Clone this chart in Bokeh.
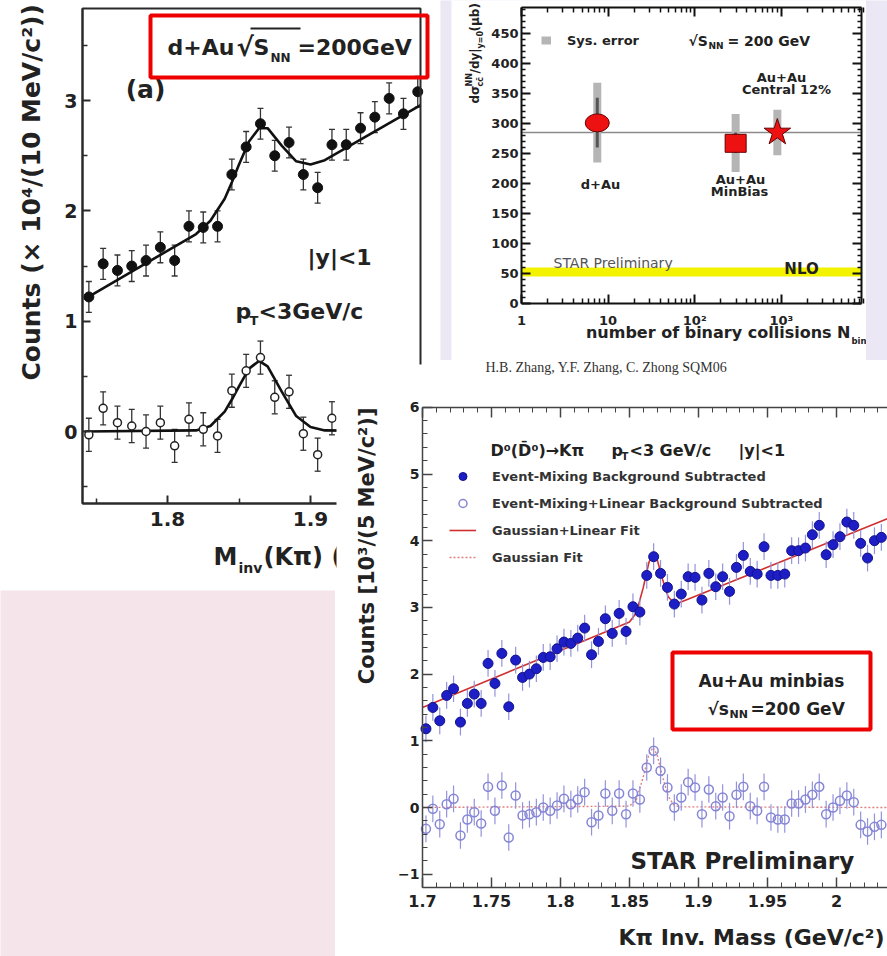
import math
from bokeh.plotting import figure
from bokeh.layouts import column
from bokeh.models import (ColumnDataSource, Label, BoxAnnotation, Whisker, TeeHead,
                          FixedTicker, LinearAxis, LogAxis, NumeralTickFormatter,
                          BasicTickFormatter, Range1d, Legend, LegendItem)
from bokeh.embed import file_html
from bokeh.resources import INLINE

# ============================ DATA ============================
# (a) d+Au, D0 -> K pi invariant mass, 10 MeV bins (counts x 10^4)
dau_mass = [1.745, 1.755, 1.765, 1.775, 1.785, 1.795, 1.805, 1.815, 1.825, 1.835,
            1.845, 1.855, 1.865, 1.875, 1.885, 1.895, 1.905, 1.915, 1.925, 1.935,
            1.945, 1.955, 1.965, 1.975]
dau_counts = [1.22, 1.52, 1.46, 1.50, 1.55, 1.67, 1.55, 1.86, 1.85, 1.86,
              2.33, 2.58, 2.79, 2.50, 2.62, 2.33, 2.21, 2.60, 2.60, 2.75,
              2.85, 3.02, 2.88, 3.08]
dau_counts_err = 0.14
dau_sub_mass = [1.745, 1.755, 1.765, 1.775, 1.785, 1.795, 1.805, 1.815, 1.825, 1.835,
                1.845, 1.855, 1.865, 1.875, 1.885, 1.895, 1.905, 1.915]
dau_sub_counts = [-0.03, 0.21, 0.08, 0.05, 0.00, 0.08, -0.13, 0.11, 0.02, -0.04,
                  0.37, 0.55, 0.67, 0.31, 0.36, -0.02, -0.21, 0.12]
dau_sub_err = 0.15
dau_fit_mass = [1.742, 1.82, 1.83, 1.84, 1.845, 1.85, 1.857, 1.864, 1.87, 1.88,
                1.89, 1.90, 1.91, 1.977]
dau_fit_total = [1.20, 1.79, 1.91, 2.11, 2.26, 2.42, 2.63, 2.75, 2.75, 2.59,
                 2.45, 2.42, 2.46, 2.96]
dau_fit_gauss = [0.0, 0.01, 0.05, 0.18, 0.29, 0.41, 0.57, 0.64, 0.59, 0.36,
                 0.14, 0.04, 0.01, 0.0]
dau_xticks = [1.8, 1.9]
dau_yticks = [0, 1, 2, 3]

# top right: dsigma_cc/dy vs number of binary collisions
sys_names = ["d+Au", "Au+Au MinBias", "Au+Au Central 12%"]
nbin = [7.5, 297.0, 900.0]
xsec = [301.0, 267.0, 285.0]
xsec_stat_lo = [260.0, 251.0, 277.0]
xsec_stat_hi = [343.0, 285.0, 293.0]
xsec_sys_lo = [235.0, 219.0, 247.0]
xsec_sys_hi = [368.0, 316.0, 323.0]
xsec_mean = 285.0
nlo_band = [45.0, 60.0]
tr_xticks = [1, 10, 100, 1000]
tr_xtick_labels = ["1", "10", "10²", "10³"]
tr_yticks = [0, 50, 100, 150, 200, 250, 300, 350, 400, 450]

# bottom right: Au+Au minbias, 5 MeV bins (counts x 10^3)
auau_mass = [1.7025, 1.7075, 1.7125, 1.7175, 1.7225, 1.7275, 1.7325, 1.7375, 1.7425, 1.7475,
             1.7525, 1.7575, 1.7625, 1.7675, 1.7725, 1.7775, 1.7825, 1.7875, 1.7925, 1.7975,
             1.8025, 1.8075, 1.8125, 1.8175, 1.8225, 1.8275, 1.8325, 1.8375, 1.8425, 1.8475,
             1.8525, 1.8575, 1.8625, 1.8675, 1.8725, 1.8775, 1.8825, 1.8875, 1.8925, 1.8975,
             1.9025, 1.9075, 1.9125, 1.9175, 1.9225, 1.9275, 1.9325, 1.9375, 1.9425, 1.9475,
             1.9525, 1.9575, 1.9625, 1.9675, 1.9725, 1.9775, 1.9825, 1.9875, 1.9925, 1.9975,
             2.0025, 2.0075, 2.0125, 2.0175, 2.0225, 2.0275, 2.0325]
auau_counts = [1.18, 1.50, 1.30, 1.68, 1.78, 1.28, 1.56, 1.70, 1.56, 2.16,
               1.86, 2.31, 1.51, 2.21, 1.95, 2.00, 2.08, 2.25, 2.26, 2.38,
               2.48, 2.46, 2.54, 2.69, 2.29, 2.49, 2.83, 2.61, 2.91, 2.64,
               3.01, 2.93, 3.48, 3.76, 3.51, 3.30, 3.05, 3.20, 3.46, 3.45,
               3.11, 3.51, 3.31, 3.46, 3.24, 3.60, 3.78, 3.54, 3.50, 3.91,
               3.48, 3.48, 3.50, 3.85, 3.85, 3.89, 4.09, 4.23, 3.79, 3.94,
               4.06, 4.28, 4.23, 3.96, 3.74, 4.00, 4.05]
auau_sub_counts = [-0.32, -0.02, -0.25, 0.05, 0.13, -0.42, -0.18, -0.07, -0.24, 0.31,
                   -0.05, 0.33, -0.45, 0.18, -0.12, -0.10, -0.07, 0.00, -0.05, 0.03,
                   0.13, 0.05, 0.12, 0.23, -0.22, -0.12, 0.21, -0.05, 0.21, -0.10,
                   0.21, 0.12, 0.60, 0.85, 0.55, 0.30, 0.00, 0.15, 0.38, 0.30,
                   -0.10, 0.27, 0.02, 0.15, -0.13, 0.19, 0.31, 0.02, -0.05, 0.31,
                   -0.15, -0.18, -0.18, 0.06, 0.06, 0.12, 0.19, 0.31, -0.10, 0.00,
                   0.10, 0.18, 0.08, -0.26, -0.36, -0.29, -0.26]
auau_err = 0.20
auau_fit_mass = [1.700, 1.850, 1.855, 1.860, 1.864, 1.867, 1.870, 1.874, 1.878, 1.882,
                 1.886, 2.037]
auau_fit_total = [1.50, 2.78, 2.92, 3.30, 3.67, 3.80, 3.72, 3.42, 3.16, 3.07,
                  3.07, 4.33]
auau_fit_gauss = [0.0, 0.02, 0.12, 0.46, 0.79, 0.90, 0.79, 0.46, 0.17, 0.04,
                  0.01, 0.0]
br_xticks = [1.70, 1.75, 1.80, 1.85, 1.90, 1.95, 2.00]
br_yticks = [-1, 0, 1, 2, 3, 4, 5, 6]

# ============================ STYLE / HELPERS ============================
FONT = "DejaVu Sans"
INK = "#222222"
LAV = "#ece7f5"
PINK = "#f6e4eb"
RED = "#ee0000"


def conv_factory(L, R, T, B, xr, yr, xlog=False):
    """page-pixel -> data converters for a panel whose axes box is [L,R]x[T,B]."""
    def cx(px):
        f = (px - L) / (R - L)
        if xlog:
            a, b = math.log10(xr[0]), math.log10(xr[1])
            return 10 ** (a + f * (b - a))
        return xr[0] + f * (xr[1] - xr[0])

    def cy(py):
        f = (B - py) / (B - T)
        return yr[0] + f * (yr[1] - yr[0])
    return cx, cy


def text(p, conv, px, py, s, size, color=INK, align="left", baseline="middle",
         angle=0.0, font=FONT, style="bold"):
    cx, cy = conv
    p.add_layout(Label(x=cx(px), y=cy(py), text=s, text_font=font,
                       text_font_size=f"{size}px", text_font_style=style,
                       text_color=color, text_align=align, text_baseline=baseline,
                       angle=angle))


def box(p, conv, l, r, t, b, color, width, fill=None):
    cx, cy = conv
    p.add_layout(BoxAnnotation(left=cx(l), right=cx(r), top=cy(t), bottom=cy(b),
                               fill_color=fill, fill_alpha=1.0 if fill else 0.0,
                               line_color=color, line_alpha=1.0 if color else 0.0,
                               line_width=width, level="overlay"))


def make_panel(fx, fy, w, h, L, R, T, B, xr, yr, xlog=False, bg="white"):
    """Figure whose plotting area covers the whole canvas; the drawn axes box
    [L,R]x[T,B] (page pixels) carries the ranges xr, yr."""
    cx, cy = conv_factory(L, R, T, B, xr, yr, xlog)
    p = figure(width=w, height=h,
               x_range=Range1d(cx(fx), cx(fx + w)), y_range=Range1d(cy(fy + h), cy(fy)),
               x_axis_type="log" if xlog else "linear",
               x_axis_location=None, y_axis_location=None,
               output_backend="svg", toolbar_location=None, min_border=0,
               background_fill_color=bg, border_fill_color=bg, outline_line_color=None)
    p.xgrid.visible = False
    p.ygrid.visible = False
    return p, (cx, cy)


def add_axis(p, side, fixed, bounds, ticks, minor, size, standoff, tick_in, minor_in,
             color, width, show_labels=True, log=False):
    Ax = LogAxis if log else LinearAxis
    ax = Ax(fixed_location=fixed, bounds=bounds,
            ticker=FixedTicker(ticks=ticks, minor_ticks=minor))
    if log:
        ax.formatter = BasicTickFormatter()
    ax.major_tick_in = tick_in
    ax.major_tick_out = 0
    ax.minor_tick_in = minor_in
    ax.minor_tick_out = 0
    ax.axis_line_color = color
    ax.axis_line_width = width
    ax.major_tick_line_color = color
    ax.major_tick_line_width = width
    ax.minor_tick_line_color = color
    ax.minor_tick_line_width = max(1.0, width - 0.5)
    ax.major_label_text_font = FONT
    ax.major_label_text_font_style = "bold"
    ax.major_label_text_font_size = f"{size}px"
    ax.major_label_standoff = standoff
    ax.major_label_text_color = INK if show_labels else None
    p.add_layout(ax, side)
    return ax


def empty_fig(w, h, color):
    p = figure(width=w, height=h, output_backend="svg", toolbar_location=None,
               x_axis_location=None, y_axis_location=None, min_border=0,
               background_fill_color=color, border_fill_color=color,
               outline_line_color=None)
    p.xgrid.visible = False
    p.ygrid.visible = False
    return p


# ============================ PANEL (a) ============================
A_FX, A_FY, A_W, A_H = 0, 0, 440, 590
A_L, A_R, A_T, A_B = 82, 420, 8, 503
a_xr = (1.8 + (A_L - 167) / 1430.0, 1.8 + (A_R - 167) / 1430.0)
a_yr = ((431 - A_B) / 110.3, (431 - A_T) / 110.3)
pa, ca = make_panel(A_FX, A_FY, A_W, A_H, A_L, A_R, A_T, A_B, a_xr, a_yr)
AC = "#2a2a2a"
box(pa, ca, A_L, A_R, A_T, A_B, AC, 2)
add_axis(pa, "below", a_yr[0], a_xr, dau_xticks, [1.75, 1.85, 1.95], 20, 8, 8, 5, AC, 2)
add_axis(pa, "left", a_xr[0], a_yr, dau_yticks, [-0.5, 0.5, 1.5, 2.5, 3.5], 19, 5, 8, 5, AC, 2)

pa.line(dau_fit_mass, dau_fit_total, line_color="#111111", line_width=2.6)
pa.line(dau_fit_mass, dau_fit_gauss, line_color="#111111", line_width=2.6)

src_a = ColumnDataSource(dict(x=dau_mass, y=dau_counts,
                              lo=[v - dau_counts_err for v in dau_counts],
                              hi=[v + dau_counts_err for v in dau_counts]))
src_as = ColumnDataSource(dict(x=dau_sub_mass, y=dau_sub_counts,
                               lo=[v - dau_sub_err for v in dau_sub_counts],
                               hi=[v + dau_sub_err for v in dau_sub_counts]))
for s in (src_a, src_as):
    pa.add_layout(Whisker(source=s, base="x", upper="hi", lower="lo", dimension="height",
                          line_color="#333333", line_width=1.3,
                          upper_head=TeeHead(size=6, line_color="#333333", line_width=1.3),
                          lower_head=TeeHead(size=6, line_color="#333333", line_width=1.3)))
pa.scatter("x", "y", source=src_a, marker="circle", size=10, fill_color="#111111",
           line_color="#111111")
pa.scatter("x", "y", source=src_as, marker="circle", size=8, fill_color="white",
           line_color="#222222", line_width=1.5)

box(pa, ca, 150, 427, 15, 77, RED, 4)
text(pa, ca, 167, 47, "d+Au", 22)
text(pa, ca, 236, 46, "√", 26)
box(pa, ca, 250, 300, 27, 29, None, 0, fill=INK)
text(pa, ca, 253, 47, "S", 22)
text(pa, ca, 270, 57, "NN", 12)
text(pa, ca, 297, 47, "=200GeV", 22)
text(pa, ca, 145, 89, "(a)", 25, align="center")
text(pa, ca, 307, 257, "|y|<1", 22)
text(pa, ca, 235, 311, "p", 22)
text(pa, ca, 249, 320, "T", 13)
text(pa, ca, 258, 311, "<3GeV/c", 22)
text(pa, ca, 31, 380, "Counts (× 10⁴/(10 MeV/c²))", 25, angle=math.pi / 2)
text(pa, ca, 213, 556, "M", 24)
text(pa, ca, 238, 567, "inv", 14)
text(pa, ca, 263, 556, "(Kπ) (GeV/c²)", 24)

# ============================ PINK / LAVENDER BACKGROUNDS ============================
p_pink = empty_fig(335, 366, PINK)
p_lav = empty_fig(447, 360, LAV)

# ============================ TOP RIGHT ============================
TR_FX, TR_FY, TR_W, TR_H = 451, 0, 415, 383
TR_L, TR_R, TR_T, TR_B = 521, 861, 7, 303
tr_xr = (1.0, 10 ** ((TR_R - TR_L) / 86.6))
tr_yr = (0.0, (TR_B - TR_T) / 0.6)
pt, ct = make_panel(TR_FX, TR_FY, TR_W, TR_H, TR_L, TR_R, TR_T, TR_B, tr_xr, tr_yr, xlog=True)
TC = "#111111"
log_minor = [m * d for d in (1, 10, 100, 1000) for m in range(2, 10)]
y_minor = [v for v in range(0, 500, 10) if v % 50 != 0]

pt.add_layout(BoxAnnotation(left=tr_xr[0], right=tr_xr[1], bottom=nlo_band[0], top=nlo_band[1],
                            fill_color="#f3f300", fill_alpha=1.0, line_alpha=0, level="underlay"))
pt.segment(x0=[tr_xr[0]], y0=[xsec_mean], x1=[tr_xr[1]], y1=[xsec_mean],
           line_color="#8a8a8a", line_width=1.5)
r_sys = pt.segment(x0=nbin, y0=xsec_sys_lo, x1=nbin, y1=xsec_sys_hi, line_width=8,
                   line_color="#b5b5b5", line_cap="butt")
pt.segment(x0=nbin, y0=xsec_stat_lo, x1=nbin, y1=xsec_stat_hi, line_width=3,
           line_color="#555555", line_cap="butt")
pt.ellipse(x=nbin[:1], y=xsec[:1], width=24, height=18, width_units="screen",
           height_units="screen", fill_color="#ee1111", line_color="#660000", line_width=1)
pt.rect(x=nbin[1:2], y=xsec[1:2], width=21, height=18, width_units="screen",
        height_units="screen", fill_color="#ee1111", line_color="#660000", line_width=1)
pt.scatter(x=nbin[2:3], y=xsec[2:3], marker="star", size=28, fill_color="#ee1111",
           line_color="#660000", line_width=1)

ax_b = add_axis(pt, "below", tr_yr[0], tr_xr, tr_xticks, log_minor, 13, 9, 9, 5, TC, 2, log=True)
ax_b.major_label_overrides = dict(zip(tr_xticks, tr_xtick_labels))
add_axis(pt, "left", tr_xr[0], tr_yr, tr_yticks, y_minor, 13, 3, 9, 4, TC, 2)
add_axis(pt, "above", tr_yr[1], tr_xr, tr_xticks, log_minor, 13, 0, 9, 5, TC, 2,
         show_labels=False, log=True)
add_axis(pt, "right", tr_xr[1], tr_yr, tr_yticks, y_minor, 13, 0, 9, 4, TC, 2,
         show_labels=False)

leg_t = Legend(items=[LegendItem(label="Sys. error", renderers=[r_sys])],
               location=(541 - TR_FX, TR_FY + TR_H - 48), glyph_width=10, glyph_height=16,
               label_standoff=16, padding=0, margin=0, spacing=0, border_line_alpha=0,
               background_fill_alpha=0, label_text_font=FONT,
               label_text_font_style="bold", label_text_font_size="13px",
               label_text_color=INK)
pt.add_layout(leg_t)

text(pt, ct, 688, 40, "√S", 14)
text(pt, ct, 708, 45, "NN", 9)
text(pt, ct, 727, 40, "= 200 GeV", 14)
text(pt, ct, 781, 77, "Au+Au", 13, align="center")
text(pt, ct, 786, 89, "Central 12%", 13, align="center")
text(pt, ct, 600, 184, "d+Au", 13, align="center")
text(pt, ct, 740, 179, "Au+Au", 13, align="center")
text(pt, ct, 739, 191, "MinBias", 13, align="center")
text(pt, ct, 553, 262, "STAR Preliminary", 14, color="#555555", style="normal")
text(pt, ct, 801, 268, "NLO", 15, align="center")
text(pt, ct, 850, 332, "number of binary collisions N", 16, align="right")
text(pt, ct, 851, 340, "bin", 8.5)
RA = math.pi / 2
text(pt, ct, 474, 103, "dσ", 12, angle=RA)
text(pt, ct, 469, 86, "NN", 8, angle=RA)
text(pt, ct, 480, 86, "cc̄", 8, angle=RA)
text(pt, ct, 474, 73, "/dy|", 12, angle=RA)
text(pt, ct, 480, 48, "y=0", 8, angle=RA)
text(pt, ct, 474, 31, "(μb)", 12, angle=RA)
text(pt, ct, 485, 367, "H.B. Zhang, Y.F. Zhang, C. Zhong SQM06", 14, color="#333333",
     font="Liberation Serif", style="normal")

# ============================ BOTTOM RIGHT ============================
BR_FX, BR_FY, BR_W, BR_H = 336, 364, 551, 592
BR_L, BR_R, BR_T, BR_B = 422, 887, 407, 887
br_xr = (1.7, 1.7 + (BR_R - BR_L) / 1380.0)
br_yr = ((807 - BR_B) / 66.7, (807 - BR_T) / 66.7)
pb, cb = make_panel(BR_FX, BR_FY, BR_W, BR_H, BR_L, BR_R, BR_T, BR_B, br_xr, br_yr)
BC = "#444444"
bx_minor = [round(1.70 + 0.01 * k, 3) for k in range(0, 35) if k % 5 != 0]
by_minor = [round(-1.2 + 0.2 * k, 2) for k in range(0, 37) if k % 5 != 1]

ERRC = "#9393dc"
r_gl = pb.line(auau_fit_mass, auau_fit_total, line_color="#d03030", line_width=1.6)
r_g = pb.line(auau_fit_mass, auau_fit_gauss, line_color="#e08080", line_width=1.4,
              line_dash="2 2")
pb.segment(x0=auau_mass, y0=[v - auau_err for v in auau_sub_counts], x1=auau_mass,
           y1=[v + auau_err for v in auau_sub_counts], line_color=ERRC, line_width=1.2)
pb.segment(x0=auau_mass, y0=[v - auau_err for v in auau_counts], x1=auau_mass,
           y1=[v + auau_err for v in auau_counts], line_color=ERRC, line_width=1.2)
r_open = pb.scatter(auau_mass, auau_sub_counts, marker="circle", size=9, fill_color=None,
                    line_color="#8585d6", line_width=1.5)
r_fill = pb.scatter(auau_mass, auau_counts, marker="circle", size=10, fill_color="#1e1ec6",
                    line_color="#12128a", line_width=1)

bxa = add_axis(pb, "below", br_yr[0], br_xr, br_xticks, bx_minor, 16, 7, 10, 5, BC, 1.5)
bxa.formatter = NumeralTickFormatter(format="0.[00]")
add_axis(pb, "left", br_xr[0], br_yr, br_yticks, by_minor, 14, 3, 10, 5, BC, 1.5)
add_axis(pb, "above", br_yr[1], br_xr, br_xticks, bx_minor, 14, 0, 10, 5, BC, 1.5,
         show_labels=False)

leg_b = Legend(items=[LegendItem(label="Event-Mixing Background Subtracted", renderers=[r_fill]),
                      LegendItem(label="Event-Mixing+Linear Background Subtracted", renderers=[r_open]),
                      LegendItem(label="Gaussian+Linear Fit", renderers=[r_gl]),
                      LegendItem(label="Gaussian Fit", renderers=[r_g])],
               location=(449 - BR_FX, BR_FY + BR_H - 567), glyph_width=27, glyph_height=20,
               label_standoff=16, spacing=7, padding=0, margin=0, border_line_alpha=0,
               background_fill_alpha=0, label_text_font=FONT,
               label_text_font_style="bold", label_text_font_size="13px",
               label_text_color="#333333")
pb.add_layout(leg_b)

text(pb, cb, 490, 450, "D⁰(D̄⁰)→Kπ", 16)
text(pb, cb, 611, 450, "p", 16)
text(pb, cb, 621, 456, "T", 10)
text(pb, cb, 629, 450, "<3 GeV/c", 16)
text(pb, cb, 738, 450, "|y|<1", 16)
box(pb, cb, 672, 870, 652, 729, RED, 4)
text(pb, cb, 771, 680, "Au+Au minbias", 17, align="center")
text(pb, cb, 707, 708, "√s", 17)
text(pb, cb, 729, 714, "NN", 11)
text(pb, cb, 750, 708, "=200 GeV", 17)
text(pb, cb, 630, 860, "STAR Preliminary", 23)
text(pb, cb, 884, 937, "Kπ Inv. Mass (GeV/c²)", 22, align="right")
text(pb, cb, 366, 407, "Counts [10³/(5 MeV/c²)]", 21, align="right", angle=math.pi / 2)

# ============================ LAYOUT (overlapping panels) ============================
pa.margin = (0, 0, 0, 0)
p_pink.margin = (0, 0, 0, 0)
pb.margin = (BR_FY - 956, 0, 0, BR_FX)
p_lav.margin = (-956, 0, 0, 440)
pt.margin = (-360, 0, 0, TR_FX)

layout = column(pa, p_pink, pb, p_lav, pt, spacing=0)
open("out.html", "w").write(file_html(layout, INLINE, title="D0 mesons"))
